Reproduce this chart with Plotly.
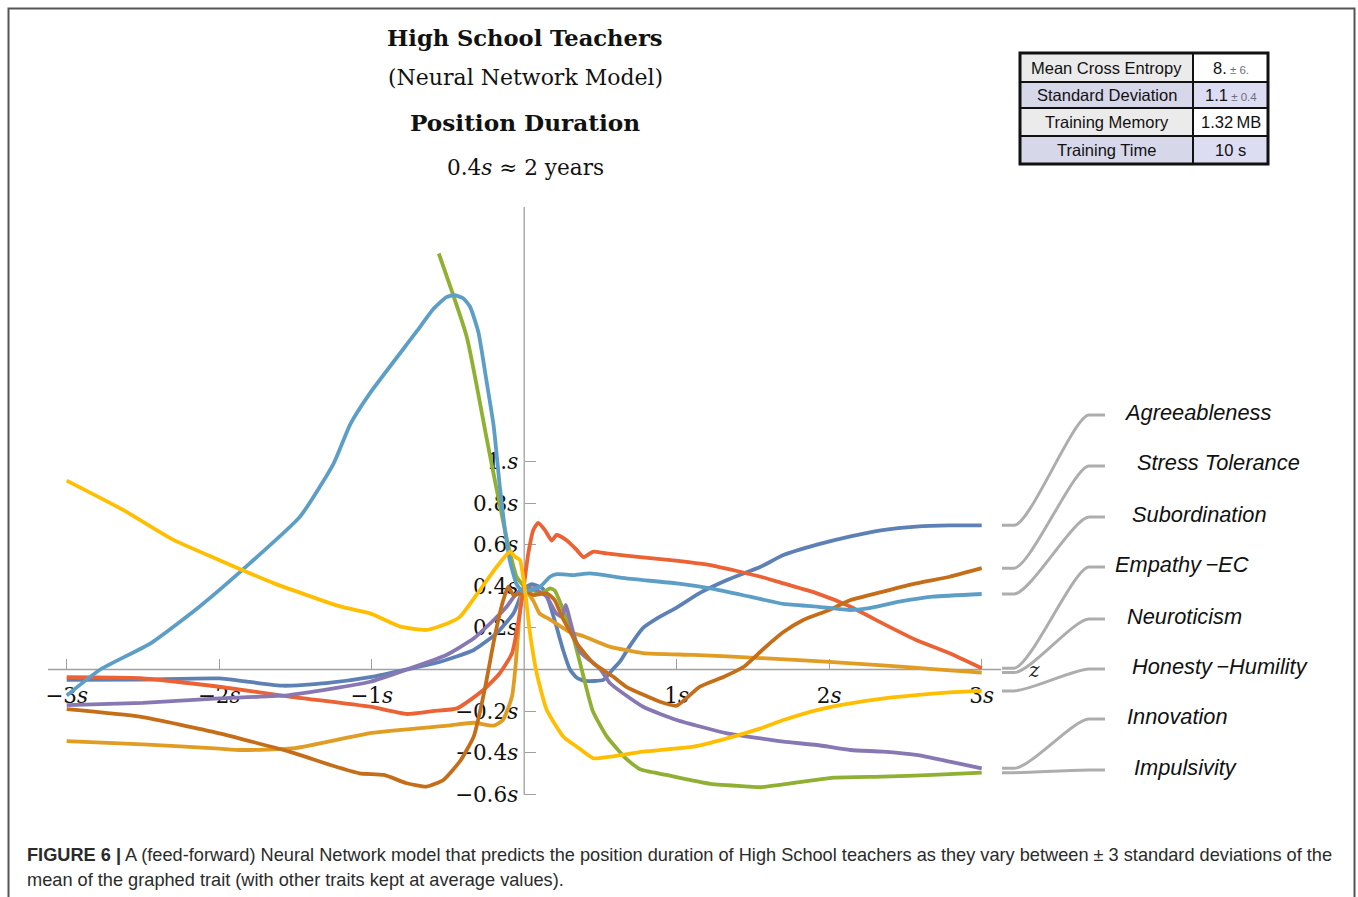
import plotly.graph_objects as go

# ---------------------------------------------------------------------------
# Page geometry (pixels) and the mapping of the trait axis (z, in s units)
# and the outcome axis (position duration, in s units)
# ---------------------------------------------------------------------------
W, H = 1358, 897
X0_PX, X_UNIT = 524.2, 152.5      # pixel of z = 0, pixels per 1 s
Y0_PX, Y_UNIT = 669.5, 208.0      # pixel of duration = 0, pixels per 1 s


def px_x(p):
    return (p - X0_PX) / X_UNIT


def px_y(p):
    return (Y0_PX - p) / Y_UNIT


def pap_x(p):
    return p / W


def pap_y(p):
    return 1 - p / H


# ---------------------------------------------------------------------------
# Model response curves (trait value in s  ->  predicted duration in s)
# ---------------------------------------------------------------------------
agree_x = [-3.0, -2.5, -2.0, -1.8, -1.58, -1.3, -1.0, -0.77, -0.55, -0.33, -0.18, -0.07,
           -0.03, 0.0, 0.05, 0.12, 0.16, 0.21, 0.255, 0.3, 0.345, 0.4, 0.52, 0.58, 0.63,
           0.69, 0.78, 0.89, 1.0, 1.15, 1.33, 1.55, 1.70, 1.92, 2.14, 2.35, 2.57, 2.79, 3.0]
agree_y = [-0.05, -0.048, -0.043, -0.06, -0.078, -0.066, -0.036, 0.0, 0.037, 0.094, 0.175,
           0.27, 0.34, 0.39, 0.41, 0.39, 0.33, 0.21, 0.094, 0.0, -0.04, -0.055, -0.05, 0.0,
           0.04, 0.11, 0.2, 0.254, 0.298, 0.367, 0.43, 0.494, 0.55, 0.6, 0.64, 0.67, 0.687,
           0.693, 0.693]

neuro_x = [-3.0, -2.5, -2.0, -1.86, -1.5, -1.0, -0.5, -0.33, -0.2, -0.14, -0.08, -0.055,
           -0.035, -0.015, 0.0, 0.06, 0.1, 0.17, 0.3, 0.39, 0.56, 0.78, 1.11, 1.55, 2.0,
           2.35, 2.68, 3.0]
neuro_y = [-0.344, -0.36, -0.38, -0.387, -0.378, -0.305, -0.27, -0.256, -0.27, -0.243,
           -0.13, 0.03, 0.22, 0.37, 0.39, 0.33, 0.27, 0.24, 0.18, 0.16, 0.11, 0.079, 0.07,
           0.055, 0.037, 0.02, 0.002, -0.015]

impul_x = [-0.56, -0.377, -0.246, -0.16, -0.104, -0.05, 0.0, 0.06, 0.12, 0.17, 0.2, 0.256,
           0.32, 0.377, 0.45, 0.54, 0.67, 0.76, 0.93, 1.22, 1.48, 1.55, 2.03, 2.35, 2.68, 3.0]
impul_y = [2.0, 1.6, 1.11, 0.79, 0.595, 0.446, 0.40, 0.38, 0.37, 0.39, 0.38, 0.286, 0.16,
           0.0, -0.2, -0.32, -0.43, -0.48, -0.507, -0.55, -0.563, -0.566, -0.52, -0.515,
           -0.507, -0.496]

empath_x = [-3.0, -2.52, -2.0, -1.54, -1.01, -0.77, -0.6, -0.44, -0.27, -0.16, -0.08, -0.04,
            -0.006, 0.027, 0.06, 0.092, 0.136, 0.18, 0.213, 0.28, 0.344, 0.39, 0.45, 0.54,
            0.76, 0.96, 1.22, 1.55, 1.70, 1.92, 2.14, 2.35, 2.57, 2.79, 3.0]
empath_y = [-0.037, -0.042, -0.083, -0.13, -0.179, -0.214, -0.2, -0.187, -0.10, -0.018,
            0.078, 0.222, 0.382, 0.559, 0.671, 0.705, 0.67, 0.62, 0.647, 0.62, 0.575, 0.54,
            0.566, 0.558, 0.54, 0.526, 0.502, 0.446, 0.414, 0.366, 0.302, 0.222, 0.142,
            0.078, 0.006]

innov_x = [-3.0, -2.5, -2.0, -1.54, -1.01, -0.77, -0.51, -0.33, -0.2, -0.115, -0.05, 0.0,
           0.08, 0.147, 0.21, 0.246, 0.273, 0.30, 0.323, 0.366, 0.454, 0.5, 0.563, 0.78,
           1.0, 1.33, 1.55, 1.70, 1.92, 2.14, 2.35, 2.57, 2.79, 3.0]
innov_y = [-0.171, -0.16, -0.139, -0.123, -0.059, 0.0, 0.07, 0.15, 0.238, 0.302, 0.366,
           0.39, 0.382, 0.35, 0.27, 0.254, 0.31, 0.238, 0.174, 0.085, 0.03, 0.0, -0.066,
           -0.179, -0.243, -0.307, -0.331, -0.347, -0.363, -0.387, -0.395, -0.411, -0.443,
           -0.475]

stress_x = [-3.0, -2.52, -2.0, -1.54, -1.27, -1.08, -0.92, -0.77, -0.64, -0.53, -0.42, -0.33,
            -0.26, -0.19, -0.137, -0.105, -0.07, -0.028, 0.0, 0.06, 0.147, 0.2, 0.25, 0.345,
            0.454, 0.585, 0.67, 0.89, 1.0, 1.15, 1.31, 1.44, 1.57, 1.70, 1.83, 2.0, 2.14,
            2.36, 2.57, 2.79, 3.0]
stress_y = [-0.191, -0.227, -0.307, -0.395, -0.459, -0.499, -0.507, -0.547, -0.563, -0.531,
            -0.44, -0.32, -0.1, 0.17, 0.334, 0.398, 0.358, 0.366, 0.38, 0.358, 0.366, 0.334,
            0.25, 0.126, 0.03, -0.035, -0.083, -0.155, -0.174, -0.083, -0.035, 0.013, 0.10,
            0.18, 0.238, 0.286, 0.334, 0.376, 0.414, 0.446, 0.487]

subord_x = [-3.0, -2.78, -2.45, -2.13, -1.8, -1.47, -1.25, -1.14, -1.01, -0.70, -0.6, -0.51,
            -0.46, -0.40, -0.355, -0.3, -0.25, -0.2, -0.16, -0.126, -0.093, -0.05, -0.01,
            0.04, 0.104, 0.17, 0.214, 0.323, 0.43, 0.67, 1.0, 1.22, 1.48, 1.70, 1.92, 2.14,
            2.25, 2.46, 2.68, 3.0]
subord_y = [-0.125, 0.0, 0.126, 0.302, 0.51, 0.735, 0.99, 1.18, 1.33, 1.63, 1.73, 1.79,
            1.80, 1.785, 1.744, 1.62, 1.40, 1.17, 0.88, 0.67, 0.52, 0.41, 0.375, 0.382,
            0.398, 0.446, 0.458, 0.454, 0.462, 0.438, 0.414, 0.39, 0.35, 0.315, 0.302,
            0.286, 0.294, 0.326, 0.35, 0.363]

honest_x = [-3.0, -2.63, -2.3, -2.0, -1.64, -1.2, -1.01, -0.81, -0.64, -0.5, -0.42, -0.29,
            -0.18, -0.093, -0.06, -0.028, 0.005, 0.038, 0.082, 0.148, 0.257, 0.345, 0.454,
            0.563, 0.78, 1.11, 1.33, 1.55, 1.70, 1.92, 2.14, 2.36, 2.57, 2.79, 3.0]
honest_y = [0.908, 0.767, 0.623, 0.526, 0.414, 0.302, 0.27, 0.206, 0.19, 0.222, 0.254,
            0.382, 0.494, 0.566, 0.542, 0.526, 0.382, 0.174, -0.018, -0.195, -0.323, -0.371,
            -0.427, -0.419, -0.395, -0.371, -0.331, -0.283, -0.243, -0.195, -0.163, -0.139,
            -0.123, -0.11, -0.103]

# plotting order (and colour) of the traits
series = [
    ("Agreeableness", agree_x, agree_y, "#5E81B5"),
    ("Neuroticism", neuro_x, neuro_y, "#E19C24"),
    ("Impulsivity", impul_x, impul_y, "#8FB032"),
    ("Empathy\u2009\u2212EC", empath_x, empath_y, "#EB6235"),
    ("Innovation", innov_x, innov_y, "#8778B3"),
    ("Stress Tolerance", stress_x, stress_y, "#C56E1A"),
    ("Subordination", subord_x, subord_y, "#5D9EC7"),
    ("Honesty\u2009\u2212Humility", honest_x, honest_y, "#FFBF00"),
]

# callout labels: text, index into series, y pixel of the label leg, x pixel of text
callout_names = ["Agreeableness", "Stress Tolerance", "Subordination", "Empathy\u2009\u2212EC",
                 "Neuroticism", "Honesty\u2009\u2212Humility", "Innovation", "Impulsivity"]
callout_series = [0, 5, 6, 3, 1, 7, 4, 2]
callout_leg_px = [415, 466, 517, 567, 619, 669, 719, 770]
callout_text_px = [1122, 1135, 1130, 1113, 1125, 1130, 1125, 1132]

# axis ticks
x_ticks = [-3, -2, -1, 1, 2, 3]
x_ticktext = ["\u22123<i>s</i>", "\u22122<i>s</i>", "\u22121<i>s</i>", "1<i>s</i>",
              "2<i>s</i>", "3<i>s</i>"]
y_ticks = [-0.6, -0.4, -0.2, 0.2, 0.4, 0.6, 0.8, 1.0]
y_ticktext = ["\u22120.6<i>s</i>", "\u22120.4<i>s</i>", "\u22120.2<i>s</i>", "0.2<i>s</i>",
              "0.4<i>s</i>", "0.6<i>s</i>", "0.8<i>s</i>", "1.<i>s</i>"]

# training summary table
table_labels = ["Mean Cross Entropy", "Standard Deviation", "Training Memory", "Training Time"]
table_values = ["8.", "1.1", "1.32\u2009MB", "10 s"]
table_errors = ["\u00b1 6.", "\u00b1 0.4", "", ""]

SERIF = "DejaVu Serif"
SANS = "Liberation Sans"
AXIS_GREY = "#A0A0A0"

fig = go.Figure()

for name, xs, ys, col in series:
    fig.add_trace(go.Scatter(
        x=xs, y=ys, mode="lines", name=name,
        line=dict(color=col, width=3.8, shape="spline", smoothing=0.5),
        hoverinfo="skip",
    ))

shapes = []

# axes lines
shapes.append(dict(type="line", xref="x", yref="y", x0=px_x(48), x1=px_x(1001), y0=0, y1=0,
                   line=dict(color=AXIS_GREY, width=1.3), layer="below"))
shapes.append(dict(type="line", xref="x", yref="y", x0=0, x1=0, y0=px_y(795), y1=px_y(207),
                   line=dict(color=AXIS_GREY, width=1.3), layer="below"))

# callout legs from each curve's right end to its label
xa, xb = px_x(1002), px_x(1014)
xc1, xc2 = px_x(1030), px_x(1074)
xe, xf = px_x(1089), px_x(1105)
for k, si in enumerate(callout_series):
    y_end = series[si][2][-1]
    y_leg = px_y(callout_leg_px[k])
    path = (f"M {xa},{y_end} L {xb},{y_end} C {xc1},{y_end} {xc2},{y_leg} {xe},{y_leg} "
            f"L {xf},{y_leg}")
    shapes.append(dict(type="path", xref="x", yref="y", path=path,
                       line=dict(color="#ADADAD", width=3)))

# table cells
col_edges = [1020, 1193, 1268]
row_edges = [53, 82, 108, 136, 164]
label_fill = ["#EBEBEB", "#D7D7EA", "#EBEBEB", "#D7D7EA"]
value_fill = ["#FFFFFF", "#DCDCF2", "#FFFFFF", "#DCDCF2"]
for r in range(4):
    for c, fills in enumerate([label_fill, value_fill]):
        shapes.append(dict(type="rect", xref="paper", yref="paper",
                           x0=pap_x(col_edges[c]), x1=pap_x(col_edges[c + 1]),
                           y0=pap_y(row_edges[r + 1]), y1=pap_y(row_edges[r]),
                           fillcolor=fills[r], line=dict(color="#111111", width=2)))
shapes.append(dict(type="rect", xref="paper", yref="paper",
                   x0=pap_x(col_edges[0]), x1=pap_x(col_edges[-1]),
                   y0=pap_y(row_edges[-1]), y1=pap_y(row_edges[0]),
                   line=dict(color="#111111", width=3)))

# page frame
shapes.append(dict(type="rect", xref="paper", yref="paper",
                   x0=pap_x(8.5), x1=pap_x(1354.5), y0=-0.05, y1=pap_y(8.5),
                   line=dict(color="#555555", width=2)))

annotations = []

# titles
title_lines = [
    ("<b>High School Teachers</b>", 38, 22.6),
    ("(Neural Network Model)", 78, 22),
    ("<b>Position Duration</b>", 122, 23.2),
    ("0.4<i>s</i> \u2248 2 years", 167, 21.6),
]
for txt, ypx, fs in title_lines:
    annotations.append(dict(text=txt, xref="paper", yref="paper", x=pap_x(525), y=pap_y(ypx),
                            xanchor="center", yanchor="middle", showarrow=False,
                            font=dict(family=SERIF, size=fs, color="#111111")))

# callout labels
for k, name in enumerate(callout_names):
    annotations.append(dict(text=f"<i>{name}</i>", xref="paper", yref="paper",
                            x=pap_x(callout_text_px[k]), y=pap_y(callout_leg_px[k] - 3),
                            xanchor="left", yanchor="middle", showarrow=False,
                            font=dict(family=SANS, size=21.8, color="#111111")))

# axis name for the trait axis
annotations.append(dict(text="<i>z</i>", xref="paper", yref="paper", x=pap_x(1034),
                        y=pap_y(670), xanchor="center", yanchor="middle", showarrow=False,
                        font=dict(family=SERIF, size=20, color="#222222")))

# table text
for r in range(4):
    yc = pap_y((row_edges[r] + row_edges[r + 1]) / 2)
    annotations.append(dict(text=table_labels[r], xref="paper", yref="paper",
                            x=pap_x((col_edges[0] + col_edges[1]) / 2), y=yc,
                            xanchor="center", yanchor="middle", showarrow=False,
                            font=dict(family=SANS, size=16.5, color="#111111")))
    val = table_values[r]
    if table_errors[r]:
        val += f"<span style='font-size:11.5px;color:#6E6E80'> {table_errors[r]}</span>"
    annotations.append(dict(text=val, xref="paper", yref="paper",
                            x=pap_x((col_edges[1] + col_edges[2]) / 2), y=yc,
                            xanchor="center", yanchor="middle", showarrow=False,
                            font=dict(family=SANS, size=16.5, color="#111111")))

# figure caption
caption_1 = ("<b>FIGURE 6 |</b> A (feed-forward) Neural Network model that predicts the position "
             "duration of High School teachers as they vary between \u00b1 3 standard deviations of the")
caption_2 = "mean of the graphed trait (with other traits kept at average values)."
for txt, ypx in [(caption_1, 855), (caption_2, 880)]:
    annotations.append(dict(text=txt, xref="paper", yref="paper", x=pap_x(25), y=pap_y(ypx),
                            xanchor="left", yanchor="middle", showarrow=False,
                            font=dict(family=SANS, size=18.2, color="#2B2B2B")))

fig.update_layout(
    width=W, height=H,
    margin=dict(l=0, r=0, t=0, b=0),
    paper_bgcolor="white", plot_bgcolor="white",
    showlegend=False, hovermode=False,
    shapes=shapes, annotations=annotations,
    xaxis=dict(domain=[0, 1], range=[px_x(0), px_x(W)], anchor="free", position=pap_y(Y0_PX),
               showgrid=False, zeroline=False, showline=False,
               tickmode="array", tickvals=x_ticks, ticktext=x_ticktext,
               ticks="inside", ticklen=11, tickwidth=1.2, tickcolor=AXIS_GREY,
               ticklabelstandoff=11, layer="below traces",
               tickfont=dict(family=SERIF, size=21.5, color="#111111")),
    yaxis=dict(domain=[0, 1], range=[px_y(H), px_y(0)], anchor="free", position=pap_x(X0_PX),
               showgrid=False, zeroline=False, showline=False,
               tickmode="array", tickvals=y_ticks, ticktext=y_ticktext,
               ticks="inside", ticklen=11, tickwidth=1.2, tickcolor=AXIS_GREY,
               ticklabelstandoff=6, layer="below traces",
               tickfont=dict(family=SERIF, size=21.5, color="#111111")),
)

fig.write_html("out.html", config={"displayModeBar": False})
